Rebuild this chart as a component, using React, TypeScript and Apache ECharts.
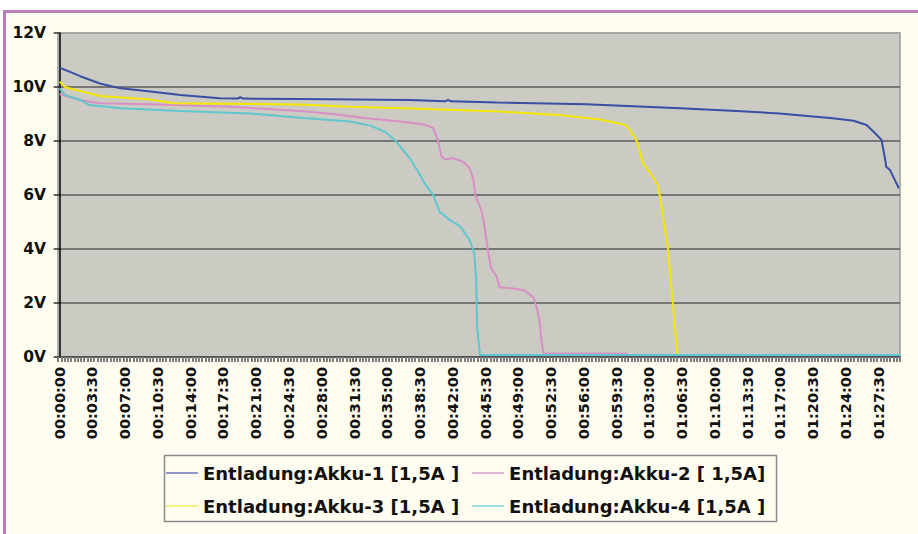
import React, { useEffect, useRef } from "react";
import * as echarts from "echarts";

// x tick labels (hh:mm:ss), every 3:30
const timeLabels = [
  "00:00:00", "00:03:30", "00:07:00", "00:10:30", "00:14:00", "00:17:30",
  "00:21:00", "00:24:30", "00:28:00", "00:31:30", "00:35:00", "00:38:30",
  "00:42:00", "00:45:30", "00:49:00", "00:52:30", "00:56:00", "00:59:30",
  "01:03:00", "01:06:30", "01:10:00", "01:13:30", "01:17:00", "01:20:30",
  "01:24:00", "01:27:30",
];

const seriesNames = [
  "Entladung:Akku-1 [1,5A ]",
  "Entladung:Akku-2 [ 1,5A]",
  "Entladung:Akku-3 [1,5A ]",
  "Entladung:Akku-4 [1,5A ]",
];

const seriesColors = ["#3a4ea3", "#d98fc6", "#f4e600", "#5fc7cf"];
const legendColors = ["#8e96cc", "#e3b6d9", "#f8ef80", "#9fdbe0"];

// [minutes, volts]
const akku1 = [
  [0, 10.72], [2.2, 10.4], [4.3, 10.13], [6.5, 9.95], [9.7, 9.83], [12.9, 9.7],
  [17.1, 9.58], [19.0, 9.57], [19.3, 9.62], [19.6, 9.57], [25.7, 9.56], [37.4, 9.52],
  [41.2, 9.47], [41.5, 9.52], [41.8, 9.47], [46.7, 9.43], [56.3, 9.36], [60.6, 9.3],
  [66.3, 9.21], [72.3, 9.11], [76.9, 9.02], [82.6, 8.84], [84.8, 8.75], [86.2, 8.59],
  [87.3, 8.22], [87.8, 8.04], [88.2, 7.3], [88.3, 7.05], [88.7, 6.93], [89.05, 6.68],
  [89.65, 6.25],
];

const akku2 = [
  [0, 9.73], [2.2, 9.52], [4.3, 9.4], [9.7, 9.36], [18.2, 9.27], [25.7, 9.11],
  [29.2, 9.0], [32.8, 8.84], [36.4, 8.72], [38.8, 8.62], [39.6, 8.53], [39.9, 8.48],
  [40.4, 8.04], [40.8, 7.42], [41.2, 7.32], [42.0, 7.36], [43.1, 7.23], [43.8, 6.99],
  [44.2, 6.56], [44.4, 6.0], [45.1, 5.38], [45.4, 4.83], [45.6, 4.33], [45.8, 3.84],
  [46.1, 3.28], [46.7, 2.97], [47.0, 2.58], [48.5, 2.54], [49.7, 2.46], [50.6, 2.21],
  [51.0, 1.8], [51.3, 1.25], [51.5, 0.51], [51.7, 0.14], [60.7, 0.12],
];

const akku3 = [
  [0, 10.2], [0.6, 9.99], [4.3, 9.67], [9.7, 9.54], [12.1, 9.4], [25.7, 9.35],
  [31.0, 9.27], [38.5, 9.19], [47.0, 9.09], [53.4, 8.96], [57.7, 8.8], [60.4, 8.6],
  [60.9, 8.42], [61.6, 8.04], [62.0, 7.6], [62.3, 7.17], [63.0, 6.86], [63.9, 6.37],
  [64.1, 6.0], [65.0, 4.0], [65.5, 2.0], [66.0, 0.07], [70.2, 0.07],
];

const akku4 = [
  [0, 9.95], [0.6, 9.7], [2.2, 9.52], [3.2, 9.33], [6.5, 9.21], [12.9, 9.11],
  [20.3, 9.02], [25.7, 8.86], [31.0, 8.72], [33.2, 8.57], [34.7, 8.35], [35.8, 8.04],
  [36.4, 7.79], [37.4, 7.36], [38.3, 6.86], [39.0, 6.43], [39.9, 6.0], [40.6, 5.38],
  [41.7, 5.07], [42.8, 4.83], [43.8, 4.33], [44.3, 3.84], [44.5, 2.85], [44.6, 1.12],
  [44.9, 0.07], [89.8, 0.07],
];

const seriesData = [akku1, akku2, akku3, akku4];

// axis layout (minutes): one category = 0.35 min (21 s), labels centred in categories
const categoryStep = 0.35;
const categoryCount = 257;
const xMin = -categoryStep / 2;
const xMax = xMin + categoryStep * categoryCount;

const parseTime = (s: string) => {
  const [h, m, sec] = s.split(":").map(Number);
  return h * 60 + m + sec / 60;
};
const labelMinutes = timeLabels.map(parseTime);
const tickMinutes: number[] = [];
for (let k = 0; k <= categoryCount; k++) tickMinutes.push(xMin + k * categoryStep);

const FONT = "DejaVu Sans";

const legendRow = (names: string[], colors: string[], top: number) => ({
  left: 166,
  top,
  padding: 0,
  orient: "horizontal",
  icon: "rect",
  itemWidth: 32,
  itemHeight: 2,
  itemGap: 13,
  data: names.map((n, i) => ({ name: n, itemStyle: { color: colors[i] } })),
  textStyle: { fontFamily: FONT, fontWeight: "bold", fontSize: 18, color: "#111" },
  selectedMode: false,
});

export default function App() {
  const ref = useRef<HTMLDivElement>(null);

  useEffect(() => {
    document.body.style.margin = "0";
    if (!ref.current) return;
    const chart = echarts.init(ref.current, undefined, { renderer: "svg" });

    const gridLineColors = ["#5a5a5a", "#5a5a5a", "#5a5a5a", "#5a5a5a", "#5a5a5a", "#5a5a5a", "#a4a4a4"];

    chart.setOption({
      animation: false,
      backgroundColor: "transparent",
      grid: {
        left: 58,
        top: 33,
        right: 18,
        bottom: 177,
        show: true,
        backgroundColor: "#cbcbc4",
        borderColor: "#9a9a9a",
        borderWidth: 1.5,
      },
      xAxis: {
        type: "value",
        min: xMin,
        max: xMax,
        axisLine: { show: true, onZero: false, lineStyle: { color: "#4a4a4a", width: 1.5 } },
        axisTick: {
          show: true,
          customValues: tickMinutes,
          length: 5,
          lineStyle: { color: "#7e7e7e", width: 2 },
        },
        splitLine: { show: false },
        axisLabel: {
          customValues: labelMinutes,
          rotate: 90,
          margin: 10,
          fontFamily: FONT,
          fontWeight: "bold",
          fontSize: 14.5,
          color: "#111",
          formatter: (v: number) => {
            const i = labelMinutes.findIndex((m) => Math.abs(m - v) < 1e-6);
            return i >= 0 ? timeLabels[i] : "";
          },
        },
      },
      yAxis: {
        type: "value",
        min: 0,
        max: 12,
        interval: 2,
        axisLine: { show: true, lineStyle: { color: "#000", width: 1.5 } },
        axisTick: { show: true, length: 6, lineStyle: { color: "#333", width: 1.5 } },
        splitLine: { show: true, lineStyle: { color: gridLineColors, width: 1.5 } },
        axisLabel: {
          margin: 12,
          fontFamily: FONT,
          fontWeight: "bold",
          fontSize: 15.5,
          color: "#111",
          formatter: "{value}V",
        },
      },
      legend: [
        legendRow([seriesNames[0], seriesNames[1]], [legendColors[0], legendColors[1]], 464),
        legendRow([seriesNames[2], seriesNames[3]], [legendColors[2], legendColors[3]], 497),
      ],
      graphic: [
        {
          type: "rect",
          shape: { x: 164.5, y: 455.5, width: 612, height: 66 },
          style: { fill: "transparent", stroke: "#8a8a8a", lineWidth: 1.5 },
          silent: true,
        },
      ],
      series: seriesData.map((d, i) => ({
        name: seriesNames[i],
        type: "line",
        data: d,
        symbol: "none",
        showSymbol: false,
        lineStyle: { color: seriesColors[i], width: 2 },
        itemStyle: { color: seriesColors[i] },
        emphasis: { disabled: true },
      })),
    });

    return () => chart.dispose();
  }, []);

  return (
    <div
      style={{
        position: "fixed",
        left: 0,
        top: 0,
        width: 918,
        height: 534,
        background: "#ffffff",
        overflow: "hidden",
      }}
    >
      <div
        style={{
          position: "absolute",
          left: 3,
          top: 10,
          width: 1000,
          height: 1000,
          background: "#fffdf0",
          borderLeft: "3px solid #b77fb6",
          borderTop: "3px solid #b77fb6",
        }}
      />
      <div ref={ref} style={{ position: "absolute", left: 0, top: 0, width: 918, height: 534 }} />
    </div>
  );
}
